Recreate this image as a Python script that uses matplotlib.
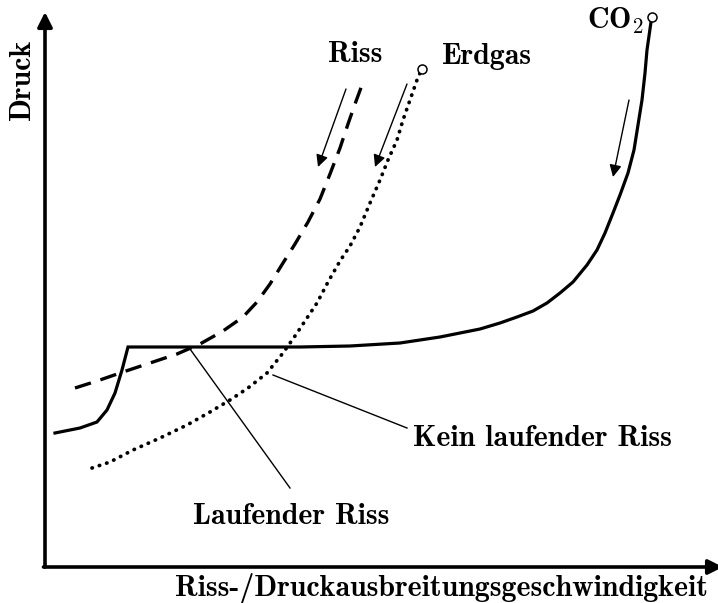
import matplotlib.pyplot as plt

plt.rcParams['mathtext.fontset'] = 'cm'
plt.rcParams['axes.unicode_minus'] = False

# schematic units: speed (x) and pressure (y)
co2_x = [10, 15, 35, 52, 62, 70, 77, 83, 205, 255, 305, 355, 375, 395, 415, 435, 455, 472,
         488, 502, 515, 528, 542, 552, 560, 568, 575, 583, 589, 593, 597, 600, 602, 605, 606]
co2_y = [134, 135, 139, 145, 157, 174, 197, 220, 220, 220, 221, 224, 227, 230, 234, 238, 244, 250,
         256, 264, 274, 285, 302, 317, 334, 354, 372, 394, 417, 442, 467, 494, 517, 538, 545]

riss_x = [30, 52, 78, 105, 132, 155, 178, 198, 212, 225, 238, 250, 263, 275, 285, 295, 303, 310, 317]
riss_y = [179, 186, 195, 204, 213, 223, 236, 250, 265, 283, 304, 323, 345, 368, 393, 419, 443, 463, 482]

gas_x = [47, 65, 88, 115, 142, 165, 185, 203, 222, 238, 250, 260, 272, 283, 295, 305, 315,
         325, 335, 343, 352, 358, 365, 372, 375]
gas_y = [99, 105, 117, 129, 142, 155, 167, 179, 194, 214, 231, 246, 264, 285, 306, 321, 340,
         364, 387, 407, 427, 447, 467, 487, 494]

# direction arrows (start, end)
arrows = [((301, 478), (273, 400)),
          ((362, 483), (330, 400)),
          ((584, 467), (568, 390))]

# leader lines for the labels
lead_lauf = ((145, 218), (245, 79))
lead_kein = ((228, 192), (362, 139))

fig = plt.figure(figsize=(7.18, 6.03), dpi=100)
ax = fig.add_axes([0, 0, 1, 1])
ax.set_xlim(-45, 673)
ax.set_ylim(-36, 567)
ax.axis('off')

# axes with arrow heads
ax.annotate('', xy=(0, 555), xytext=(0, 0), annotation_clip=False,
            arrowprops=dict(arrowstyle='-|>', lw=2.6, color='black',
                            mutation_scale=22, shrinkA=0, shrinkB=0))
ax.annotate('', xy=(678, 0), xytext=(-1.5, 0), annotation_clip=False,
            arrowprops=dict(arrowstyle='-|>', lw=2.6, color='black',
                            mutation_scale=22, shrinkA=0, shrinkB=0))

ax.plot(co2_x, co2_y, color='black', lw=2.3, solid_joinstyle='miter')
ax.plot(riss_x, riss_y, color='black', lw=2.4, linestyle=(0, (5, 3)))
ax.plot(gas_x, gas_y, color='black', lw=2.7, linestyle=(0, (0.1, 1.95)),
        dash_capstyle='round')

ax.plot([gas_x[-1] + 2], [gas_y[-1] + 4], 'o', ms=6.5, mfc='white', mec='black', mew=1.1)
ax.plot([co2_x[-1] + 1], [co2_y[-1] + 5], 'o', ms=6.5, mfc='white', mec='black', mew=1.1)

for start, end in arrows:
    ax.annotate('', xy=end, xytext=start,
                arrowprops=dict(arrowstyle='-|>', lw=1.0, color='black',
                                mutation_scale=18, shrinkA=0, shrinkB=0))

for a, b in [lead_lauf, lead_kein]:
    ax.plot([a[0], b[0]], [a[1], b[1]], color='black', lw=1.0)

font = dict(family='cmb10', fontsize=21.5, color='black')
ax.text(246, 51, 'Laufender Riss', ha='center', va='center', **font)
ax.text(368, 129, 'Kein laufender Riss', ha='left', va='center', **font)
ax.text(310, 512, 'Riss', ha='center', va='center', **font)
ax.text(397, 510, 'Erdgas', ha='left', va='center', **font)
ax.text(599, 546, r'$\mathbf{CO_2}$', ha='right', va='center', fontsize=21.5)
ax.text(-23, 488, 'Druck', ha='center', va='center', rotation=90, **font)
ax.text(397, -21, 'Riss-/Druckausbreitungsgeschwindigkeit', ha='center', va='center', **font)

plt.savefig('out.png', dpi=100)
